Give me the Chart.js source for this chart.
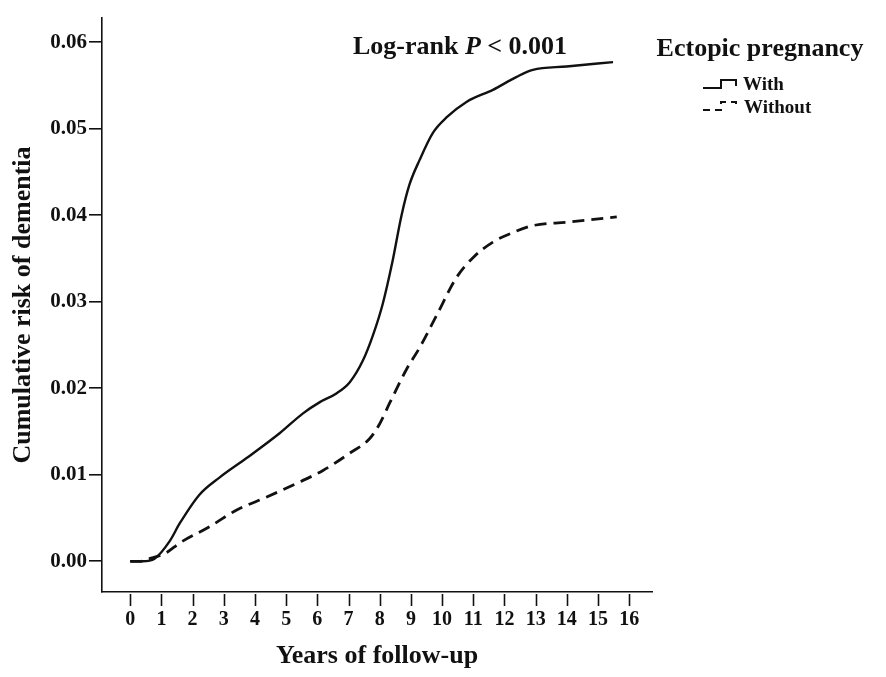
<!DOCTYPE html>
<html>
<head>
<meta charset="utf-8">
<script src="https://cdn.jsdelivr.net/npm/chart.js@4"></script>
<style>
  body { margin: 0; background: #fff; }
  #wrap { width: 886px; height: 677px; }
</style>
</head>
<body>
<div id="wrap"><canvas id="chart" width="886" height="677"></canvas></div>
<script>
// values (years of follow-up, cumulative risk)
const withYears = [0, 0.4, 0.78, 1.26, 1.59, 2.22, 2.87, 3.72, 4.79, 5.54, 6.08, 6.61, 7.04, 7.46, 7.79, 8.1, 8.4, 8.7, 8.95, 9.28, 9.7, 10.14, 10.78, 11.63, 12.39, 12.91, 13.99, 15.48];
const withRisk = [0, 0, 0.0003, 0.0023, 0.0044, 0.0077, 0.0097, 0.0119, 0.0148, 0.0171, 0.0184, 0.0194, 0.0207, 0.0232, 0.0262, 0.0298, 0.0345, 0.0400, 0.0435, 0.0464, 0.0495, 0.0513, 0.0531, 0.0545, 0.0560, 0.0568, 0.0572, 0.0577];

const withoutYears = [0, 0.3, 0.62, 1.16, 1.58, 2.54, 3.4, 4.36, 5.33, 6.18, 7.04, 7.68, 8.0, 8.32, 8.86, 9.28, 9.82, 10.46, 10.99, 11.63, 12.27, 12.91, 14.0, 15.6];
const withoutRisk = [0, 0, 0.0003, 0.0010, 0.0021, 0.0040, 0.0059, 0.0074, 0.0090, 0.0105, 0.0125, 0.0142, 0.0159, 0.0183, 0.0222, 0.0247, 0.0284, 0.0328, 0.0351, 0.0369, 0.0380, 0.0388, 0.0392, 0.0398];

const xTicks = [0, 1, 2, 3, 4, 5, 6, 7, 8, 9, 10, 11, 12, 13, 14, 15, 16];
const yTicks = [0, 0.01, 0.02, 0.03, 0.04, 0.05, 0.06];

const seriesNames = ['With', 'Without'];
const legendTitle = 'Ectopic pregnancy';
const xTitle = 'Years of follow-up';
const yTitle = 'Cumulative risk of dementia';

const FONT = "'Liberation Serif', 'Times New Roman', serif";
const INK = '#111';

function toPoints(xs, ys) {
    return xs.map((x, i) => ({ x: x, y: ys[i] }));
}

// annotation, legend and the x tick marks that hang below the axis
const extras = {
    id: 'extras',
    afterDraw(chart) {
        const ctx = chart.ctx;
        const xScale = chart.scales.x;
        const area = chart.chartArea;
        ctx.save();
        ctx.strokeStyle = INK;
        ctx.fillStyle = INK;

        ctx.lineWidth = 1.6;
        xTicks.forEach(v => {
            const px = Math.round(xScale.getPixelForValue(v)) + 0.5;
            ctx.beginPath();
            ctx.moveTo(px, area.bottom + 2);
            ctx.lineTo(px, area.bottom + 14);
            ctx.stroke();
        });

        // Log-rank P < 0.001
        const parts = [
            { t: 'Log-rank ', f: 'bold 26px ' + FONT },
            { t: 'P', f: 'italic bold 26px ' + FONT },
            { t: ' < 0.001', f: 'bold 26px ' + FONT }
        ];
        let total = 0;
        parts.forEach(p => { ctx.font = p.f; p.w = ctx.measureText(p.t).width; total += p.w; });
        let tx = 460 - total / 2;
        ctx.textBaseline = 'alphabetic';
        ctx.textAlign = 'left';
        parts.forEach(p => { ctx.font = p.f; ctx.fillText(p.t, tx, 54); tx += p.w; });

        // legend
        ctx.font = 'bold 26px ' + FONT;
        ctx.textAlign = 'center';
        ctx.fillText(legendTitle, 760, 56);

        ctx.lineWidth = 2;
        ctx.beginPath();
        ctx.moveTo(703, 88);
        ctx.lineTo(721, 88);
        ctx.lineTo(721, 80);
        ctx.lineTo(736, 80);
        ctx.lineTo(736, 86);
        ctx.stroke();

        ctx.setLineDash([7, 5]);
        ctx.beginPath();
        ctx.moveTo(703, 110);
        ctx.lineTo(721, 110);
        ctx.lineTo(721, 102);
        ctx.lineTo(736, 102);
        ctx.lineTo(736, 108);
        ctx.stroke();
        ctx.setLineDash([]);

        ctx.font = 'bold 19px ' + FONT;
        ctx.textAlign = 'left';
        ctx.fillText(seriesNames[0], 743, 90);
        ctx.fillText(seriesNames[1], 744, 113);
        ctx.restore();
    }
};

const config = {
    type: 'line',
    data: {
        datasets: [{
            label: seriesNames[0],
            data: toPoints(withYears, withRisk),
            borderColor: INK,
            borderWidth: 2.4,
            pointRadius: 0,
            fill: false,
            cubicInterpolationMode: 'monotone'
        }, {
            label: seriesNames[1],
            data: toPoints(withoutYears, withoutRisk),
            borderColor: INK,
            borderWidth: 2.8,
            borderDash: [12, 7],
            pointRadius: 0,
            fill: false,
            cubicInterpolationMode: 'monotone'
        }]
    },
    options: {
        responsive: false,
        animation: false,
        layout: { padding: { left: 0, right: 234, top: 18, bottom: 0 } },
        plugins: {
            legend: { display: false },
            tooltip: { enabled: false }
        },
        scales: {
            x: {
                type: 'linear',
                min: -0.905,
                max: 16.73,
                afterBuildTicks: (scale) => { scale.ticks = xTicks.map(v => ({ value: v })); },
                afterFit: (scale) => { scale.height = 85; },
                border: { display: true, color: INK, width: 1.6 },
                grid: { drawOnChartArea: false, drawTicks: false },
                ticks: {
                    color: INK,
                    padding: 16,
                    maxRotation: 0,
                    autoSkip: false,
                    font: { family: FONT, size: 20, weight: 'bold' }
                },
                title: {
                    display: true,
                    text: xTitle,
                    color: INK,
                    padding: { top: 0, bottom: 5 },
                    font: { family: FONT, size: 26, weight: 'bold' }
                }
            },
            y: {
                type: 'linear',
                min: -0.00355,
                max: 0.0628,
                afterBuildTicks: (scale) => { scale.ticks = yTicks.map(v => ({ value: v })); },
                afterFit: (scale) => { scale.width = 102; },
                border: { display: true, color: INK, width: 1.6 },
                grid: { drawOnChartArea: false, drawTicks: true, tickLength: 13, color: INK, lineWidth: 1.6 },
                ticks: {
                    color: INK,
                    padding: 2,
                    callback: (v) => v.toFixed(2),
                    font: { family: FONT, size: 21, weight: 'bold' }
                },
                title: {
                    display: true,
                    text: yTitle,
                    color: INK,
                    padding: { top: 8, bottom: 0 },
                    font: { family: FONT, size: 26, weight: 'bold' }
                }
            }
        }
    },
    plugins: [extras]
};

new Chart(document.getElementById('chart').getContext('2d'), config);
</script>
</body>
</html>
